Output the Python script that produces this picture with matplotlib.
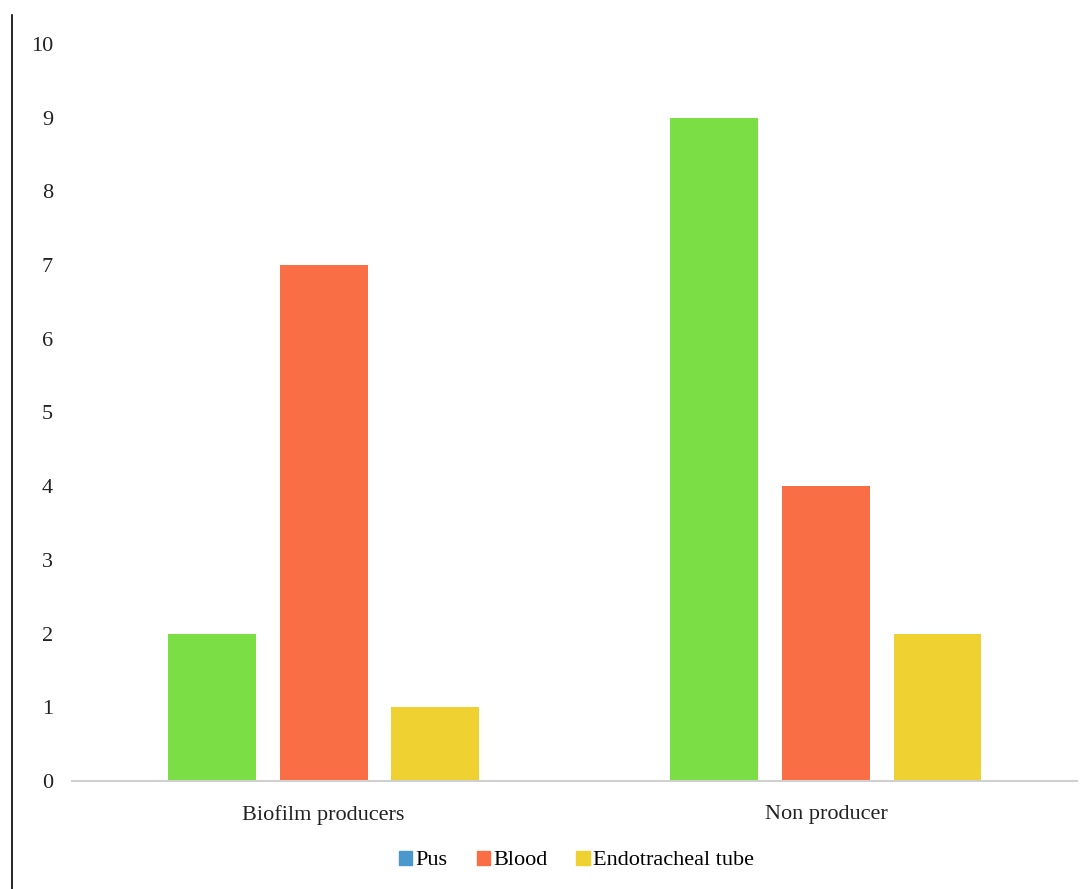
import matplotlib
matplotlib.use("Agg")
import matplotlib.pyplot as plt
from matplotlib.lines import Line2D
from matplotlib.patches import Patch
import numpy as np

# sample sources per group
groups = ["Biofilm producers", "Non producer"]
series = ["Pus", "Blood", "Endotracheal tube"]
pus = [2, 9]
blood = [7, 4]
endo = [1, 2]

bar_colors = ["#7BDE45", "#F96E44", "#EFD132"]
legend_colors = ["#4A98CC", "#F96E44", "#EFD132"]

plt.rcParams["font.family"] = ["Liberation Serif", "DejaVu Serif"]

fig = plt.figure(figsize=(10.88, 8.89), dpi=100)
ax = fig.add_axes([0.0666, 0.1215, 0.9234, 0.829])

x = np.arange(len(groups))
width = 0.175
step = 0.222
for i, vals in enumerate([pus, blood, endo]):
    ax.bar(x + (i - 1) * step, vals, width, color=bar_colors[i])

ax.set_xlim(-0.5, 1.5)
ax.set_ylim(0, 10)
ax.set_yticks(range(0, 11))
ax.set_xticks(x)
ax.set_xticklabels(groups)
ax.tick_params(axis="both", length=0, labelsize=16, colors="#222222")
ax.tick_params(axis="y", pad=14)
ax.tick_params(axis="x", pad=17)
for side in ["top", "right", "left"]:
    ax.spines[side].set_visible(False)
ax.spines["bottom"].set_color("#D0D0D0")
ax.spines["bottom"].set_linewidth(1.5)

handles = [Patch(color=c, label=s) for c, s in zip(legend_colors, series)]
fig.legend(handles=handles, loc="center", bbox_to_anchor=(0.53, 0.032), ncol=3,
           frameon=False, fontsize=16, handlelength=0.6, handleheight=0.6,
           handletextpad=0.15, columnspacing=1.3)

# border line on the left edge
fig.add_artist(Line2D([0.011, 0.011], [0.0, 0.983], color="black", lw=1.2,
                      transform=fig.transFigure))

fig.savefig("out.png", dpi=100, facecolor="white")
